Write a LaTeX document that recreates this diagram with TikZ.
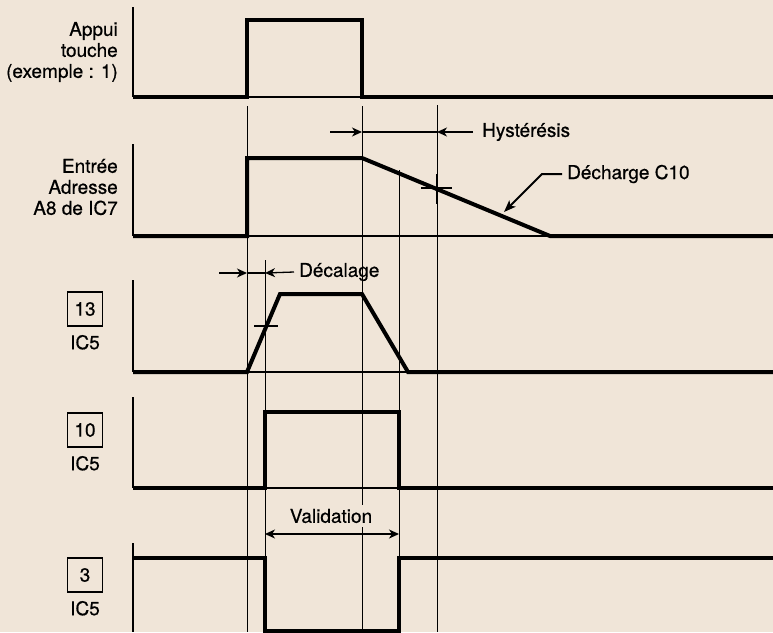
\documentclass[tikz,border=0pt]{standalone}
\usepackage{fontspec}
\setmainfont{TeX Gyre Heros}[FakeBold=0.6]
\usetikzlibrary{arrows.meta,positioning}
\definecolor{paper}{RGB}{240,229,216}
\tikzset{
  signal/.style={line width=4pt, line join=miter},
  basethin/.style={line width=1.2pt},
  guide/.style={line width=0.9pt},
  axisline/.style={line width=2.6pt},
  lbl/.style={font=\fontsize{19}{21}\selectfont, inner sep=1pt},
  pinbox/.style={draw, line width=1.6pt, minimum width=35pt, minimum height=34pt,
    inner sep=0pt, font=\fontsize{19}{20}\selectfont},
  dimarrow/.style={line width=1.3pt, -{Stealth[length=10pt,width=9pt,inset=3pt]}},
  leader/.style={line width=2pt, -{Stealth[length=12pt,width=9pt,inset=3pt]}},
}
\begin{document}
\begin{tikzpicture}[x=1pt,y=-1pt]
  \useasboundingbox (0,0) rectangle (773,632);
  \fill[paper] (0,0) rectangle (773,632);

  % guide lines
  \draw[guide] (247,106) -- (247,632);
  \draw[guide] (265,260) -- (265,632);
  \draw[guide] (362,106) -- (362,632);
  \draw[guide] (399,170) -- (399,632);
  \draw[guide] (437,105) -- (437,632);

  % Appui touche
  \draw[axisline] (133,7) -- (133,97);
  \draw[basethin] (247,97) -- (362,97);
  \draw[signal] (133,97) -- (247,97) -- (247,20) -- (362,20) -- (362,97) -- (773,97);
  \node[lbl, align=right, anchor=east] (appui) at (119,52) {Appui\\touche\\(exemple : 1)};

  % Entree adresse A8
  \draw[axisline] (133,144) -- (133,236);
  \draw[basethin] (247,236) -- (550,236);
  \draw[signal] (133,236) -- (247,236) -- (247,158) -- (362,158) -- (550,236) -- (773,236);
  \node[lbl, align=right, anchor=east] (entree) at (119,187) {Entrée\\Adresse\\A8 de IC7};
  \draw[line width=2pt] (421,188) -- (452,188) (437,174) -- (437,204);
  \node[lbl, right] (hyst) at (481,132) {Hystérésis};
  \draw[line width=1.3pt] (362,132) -- (437,132);
  \draw[dimarrow] (330,132) -- (362,132);
  \draw[dimarrow] (hyst.west) ++(-8,0) -- (437,132);
  \node[lbl, right] (decharge) at (566,174) {Décharge C10};
  \coordinate (slopept) at (504,212);
  \draw[leader] (decharge.west) ++(-4,0) -- ++(-20,0) -- (slopept);

  % 13 IC5
  \draw[axisline] (133,280) -- (133,372);
  \draw[basethin] (247,372) -- (408,372);
  \draw[signal] (133,372) -- (247,372) -- (280,294) -- (362,294) -- (408,372) -- (773,372);
  \node[pinbox] (pin13) at (85,309) {13};
  \node[lbl, below=7pt of pin13] (ic13) {IC5};
  \draw[line width=2pt] (254,326) -- (278,326);
  \node[lbl, right] (decal) at (298,272) {Décalage};
  \draw[line width=1.3pt] (247,273) -- (265,273);
  \draw[dimarrow] (219,273) -- (247,273);
  \draw[dimarrow] (decal.west) ++(-4,0) -- (265,273);

  % 10 IC5
  \draw[axisline] (133,397) -- (133,488);
  \draw[basethin] (265,488) -- (399,488);
  \draw[signal] (133,488) -- (265,488) -- (265,412) -- (399,412) -- (399,488) -- (773,488);
  \node[pinbox] (pin10) at (85,430) {10};
  \node[lbl, below=7pt of pin10] (ic10) {IC5};
  \node[lbl, fill=paper, inner sep=4pt] (valid) at (331,516) {Validation};
  \draw[line width=1.3pt, {Stealth[length=10pt,width=9pt,inset=3pt]}-{Stealth[length=10pt,width=9pt,inset=3pt]}] (265,534) -- (399,534);

  % 3 IC5
  \draw[axisline] (133,543) -- (133,632);
  \draw[signal] (133,558) -- (265,558) -- (265,631) -- (399,631) -- (399,558) -- (773,558);
  \node[pinbox] (pin3) at (85,575) {3};
  \node[lbl, below=7pt of pin3] (ic3) {IC5};
\end{tikzpicture}
\end{document}
